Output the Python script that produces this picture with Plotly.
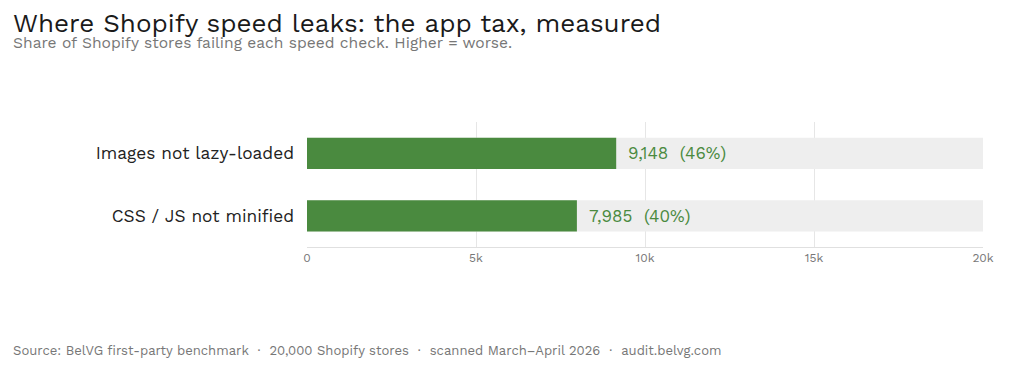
import plotly.graph_objects as go

categories = ["Images not lazy-loaded", "CSS / JS not minified"]
failing = [9148, 7985]
total_stores = 20000
tick_vals = [0, 5000, 10000, 15000, 20000]
tick_text = ["0", "5k", "10k", "15k", "20k"]

FONT = "Work Sans, Inter, Noto Sans, sans-serif"
GREEN = "#4a8a3f"
PW, PH = 676, 125  # plot area size in px

fig = go.Figure()
fig.add_trace(go.Bar(
    y=categories, x=[total_stores] * len(categories), orientation="h",
    marker=dict(color="#eeeeee", line=dict(width=0)), width=0.5,
    hoverinfo="skip", showlegend=False,
))
fig.add_trace(go.Bar(
    y=categories, x=failing, orientation="h",
    marker=dict(color=GREEN, line=dict(width=0)), width=0.5,
    showlegend=False,
))
for c, v in zip(categories, failing):
    pct = round(v / total_stores * 100)
    fig.add_annotation(
        x=v, y=c, xref="x", yref="y", text=f"{v:,}  ({pct}%)",
        showarrow=False, xanchor="left", xshift=10,
        font=dict(family=FONT, size=17, color=GREEN, weight=400),
    )

fig.update_layout(
    width=1024, height=374, barmode="overlay",
    paper_bgcolor="white", plot_bgcolor="white",
    margin=dict(l=307, r=41, t=122, b=127),
    font=dict(family=FONT),
    xaxis=dict(range=[0, total_stores], tickvals=tick_vals, ticktext=tick_text,
               showgrid=True, gridcolor="#e6e6e6", gridwidth=1, zeroline=False,
               showline=True, linecolor="#e0e0e0", ticks="",
               tickfont=dict(size=12, color="#777777", family=FONT)),
    yaxis=dict(categoryorder="array", categoryarray=categories, autorange="reversed",
               showgrid=False, zeroline=False, ticks="", ticklabelstandoff=12,
               tickfont=dict(size=17.3, color="#222222", family=FONT)),
)

fig.add_annotation(text="Where Shopify speed leaks: the app tax, measured",
                   xref="paper", yref="paper", x=(11 - 307) / PW, y=1 + (122 - 23) / PH,
                   showarrow=False, xanchor="left", yanchor="middle",
                   font=dict(size=26, color="#1a1a1a", family=FONT))
fig.add_annotation(text="Share of Shopify stores failing each speed check. Higher = worse.",
                   xref="paper", yref="paper", x=(11 - 307) / PW, y=1 + (122 - 43) / PH,
                   showarrow=False, xanchor="left", yanchor="middle",
                   font=dict(size=15.6, color="#777777", family=FONT))
fig.add_annotation(text="Source: BelVG first-party benchmark  ·  20,000 Shopify stores  ·  scanned March–April 2026  ·  audit.belvg.com",
                   xref="paper", yref="paper", x=(11 - 307) / PW, y=-(350 - 247) / PH,
                   showarrow=False, xanchor="left", yanchor="middle",
                   font=dict(size=13.1, color="#777777", family=FONT))

fig.write_html("out.html")
